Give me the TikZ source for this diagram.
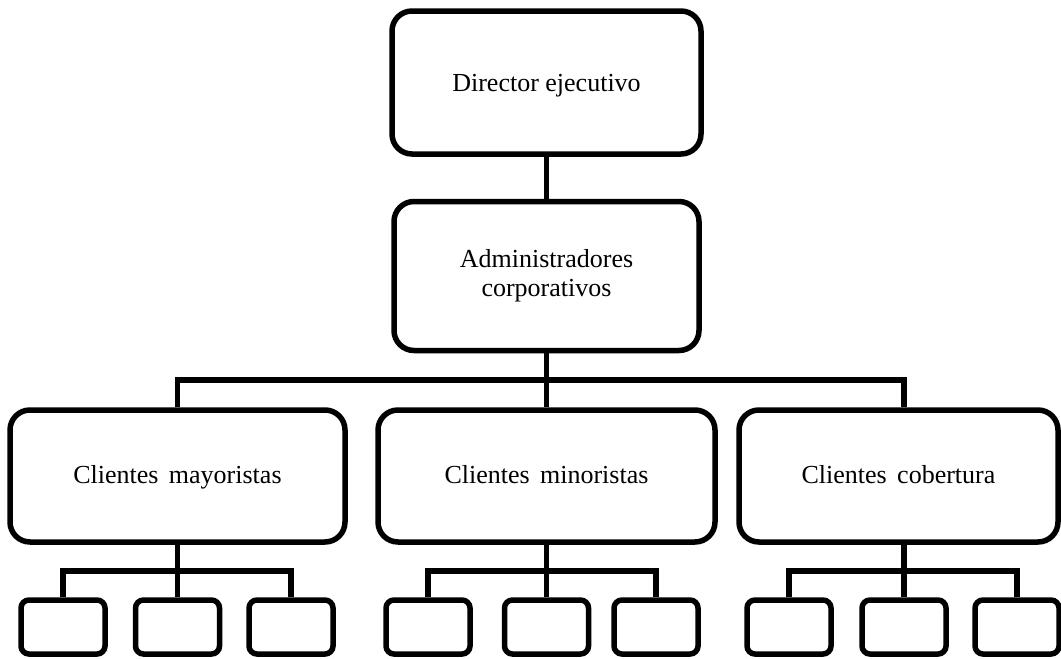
\documentclass[tikz,border=0pt]{standalone}
\usepackage{fontspec}
\setmainfont{Liberation Serif}
\begin{document}
\begin{tikzpicture}[x=1pt,y=-1pt,
  every node/.style={font=\fontsize{26}{29}\selectfont},
  bigbox/.style={draw,line width=5.5pt,rounded corners=20pt,inner sep=0pt,align=center},
  onerow/.style={text height=18.7pt,text depth=4.5pt},
  leafbox/.style={draw,line width=5.5pt,rounded corners=8pt,inner sep=0pt,
    minimum width=84pt,minimum height=54pt},
  link/.style={line width=5.5pt}]
\clip (0,0) rectangle (1061,659);
\useasboundingbox (0,0) rectangle (1061,659);

% top levels
\node[bigbox,minimum width=309pt,minimum height=143pt,text height=18.7pt,text depth=0pt] (ceo) at (546.5,82.5) {Director ejecutivo};
\node[bigbox,minimum width=305pt,minimum height=149pt] (adm) at (546.5,276) {Administradores\\corporativos};

% client groups
\node[bigbox,onerow,minimum width=335pt,minimum height=132pt] (c1) at (177.5,476) {Clientes\hspace{0.4em}mayoristas};
\node[bigbox,onerow,minimum width=337pt,minimum height=132pt] (c2) at (546.5,476) {Clientes\hspace{0.4em}minoristas};
\node[bigbox,onerow,minimum width=319pt,minimum height=132pt] (c3) at (898.5,476) {Clientes\hspace{0.4em}cobertura};

% leaf boxes
\foreach \g/\xa/\xb/\xc in {1/63/177.5/291, 2/428/546.5/656, 3/789/904/1017}{
  \node[leafbox] (l\g a) at (\xa,627) {};
  \node[leafbox] (l\g b) at (\xb,627) {};
  \node[leafbox] (l\g c) at (\xc,627) {};
}

% connectors
\draw[link] (ceo) -- (adm);
\coordinate (hub) at (546.5,380);
\draw[link] (adm) -- (hub) -- (c2);
\draw[link] (c1.north) |- (hub) -| ([xshift=5.5pt]c3.north);

\foreach \g/\sx in {1/0pt, 2/0pt, 3/5.5pt}{
  \coordinate (s\g) at ([xshift=\sx]c\g.south);
  \draw[link] (s\g) -- (s\g |- 0,571) coordinate (t\g);
  \draw[link] (l\g a.north) |- (t\g) -| (l\g c.north);
  \draw[link] (t\g) -- (l\g b.north);
}
\end{tikzpicture}
\end{document}
